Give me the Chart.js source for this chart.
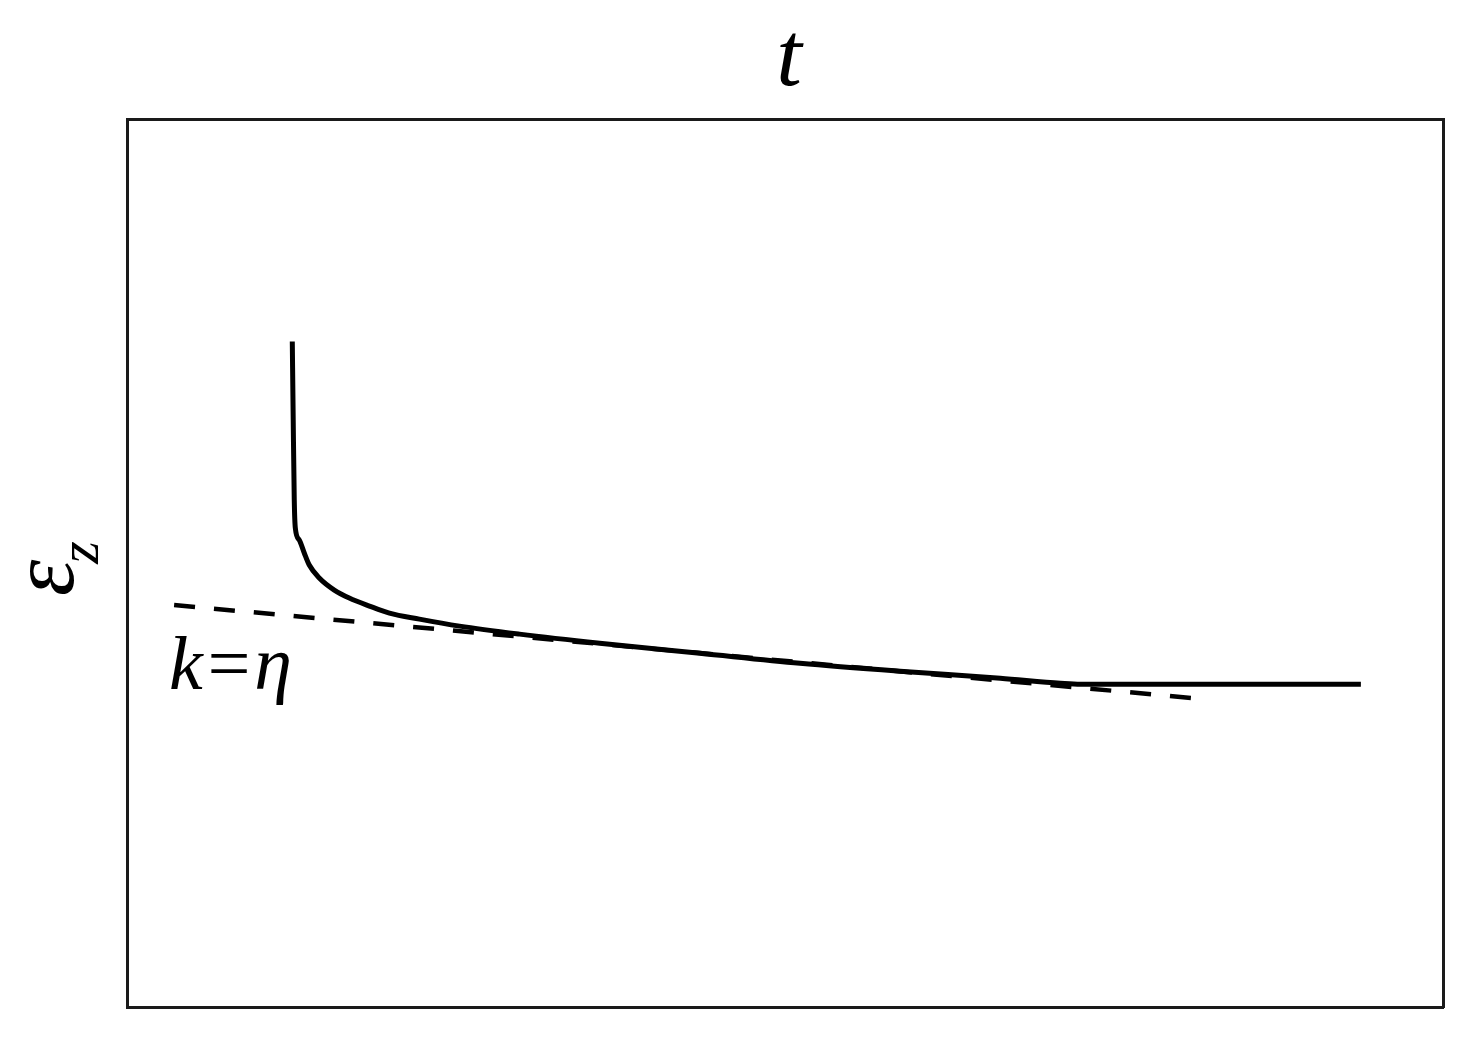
<!DOCTYPE html>
<html>
<head>
<meta charset="utf-8">
<script src="https://cdn.jsdelivr.net/npm/chart.js@4.4.1/dist/chart.umd.min.js"></script>
<style>
html,body{margin:0;padding:0;background:#fff;}
#wrap{width:1473px;height:1048px;}
</style>
</head>
<body>
<div id="wrap"><canvas id="c" width="1473" height="1048"></canvas></div>
<script>
// Creep curve (strain vs time), arbitrary units
const creepT =   [12.56, 12.63, 12.71, 12.79, 13.09, 13.47, 13.85, 14.61, 15.75, 16.89, 18.42, 19.94, 22.22, 25.27, 29.83, 35.92, 43.53, 51.14, 58.75, 66.36, 70.93, 72.45, 81.58, 93.76];
const creepEps = [74.94, 66.14, 57.11, 53.95, 52.60, 51.13, 49.77, 48.31, 46.95, 46.05, 45.15, 44.36, 43.68, 42.89, 41.99, 40.97, 39.84, 38.71, 37.81, 37.02, 36.46, 36.34, 36.34, 36.34];
// Dashed asymptote k = eta
const asymT =   [3.58, 81.20];
const asymEps = [45.26, 34.76];
const labelText = 'k=\u03B7';
const xTitle = 't';

const ink = '#000';

const textPlugin = {
  id: 'texts',
  afterDraw(chart) {
    const ctx = chart.ctx;
    const xs = chart.scales.x, ys = chart.scales.y;
    ctx.save();
    ctx.fillStyle = ink;
    // k = eta label
    ctx.font = 'italic 76px "Liberation Serif", "DejaVu Serif", serif';
    ctx.textBaseline = 'alphabetic';
    ctx.textAlign = 'left';
    ctx.fillText(labelText, xs.getPixelForValue(3.2), ys.getPixelForValue(35.8));
    // x title "t" above plot
    ctx.font = 'italic 92px "Liberation Serif", "DejaVu Serif", serif';
    ctx.textAlign = 'center';
    const a = chart.chartArea;
    ctx.fillText(xTitle, (a.left + a.right) / 2 + 4, 85);
    // y title epsilon_z rotated
    ctx.translate(73, 596);
    ctx.rotate(-Math.PI / 2);
    ctx.textAlign = 'left';
    ctx.font = 'italic 92px "Liberation Serif", "DejaVu Serif", serif';
    ctx.fillText('\u03B5', 0, 0);
    const w = ctx.measureText('\u03B5').width;
    ctx.font = 'italic 58px "Liberation Serif", "DejaVu Serif", serif';
    ctx.fillText('z', w - 4, 25);
    ctx.restore();
  }
};

const axisCommon = {
  type: 'linear',
  min: 0, max: 100,
  ticks: { display: false },
  grid: { display: false, drawTicks: false },
  border: { display: true, color: '#1a1a1a', width: 3 }
};

new Chart(document.getElementById('c'), {
  type: 'line',
  data: {
    datasets: [
      {
        label: 'creep',
        data: creepT.map((t, i) => ({ x: t, y: creepEps[i] })),
        borderColor: ink,
        borderWidth: 5,
        pointRadius: 0,
        cubicInterpolationMode: 'monotone',
        fill: false
      },
      {
        label: 'k=eta',
        data: asymT.map((t, i) => ({ x: t, y: asymEps[i] })),
        borderColor: ink,
        borderWidth: 4.5,
        borderDash: [21, 19],
        pointRadius: 0,
        fill: false
      }
    ]
  },
  options: {
    responsive: false,
    animation: false,
    layout: { padding: { left: 127, right: 30, top: 119, bottom: 41 } },
    plugins: { legend: { display: false }, title: { display: false }, tooltip: { enabled: false } },
    scales: {
      x: Object.assign({}, axisCommon, { position: 'bottom' }),
      x2: Object.assign({}, axisCommon, { position: 'top' }),
      y: Object.assign({}, axisCommon, { position: 'left' }),
      y2: Object.assign({}, axisCommon, { position: 'right' })
    }
  },
  plugins: [textPlugin]
});
</script>
</body>
</html>
